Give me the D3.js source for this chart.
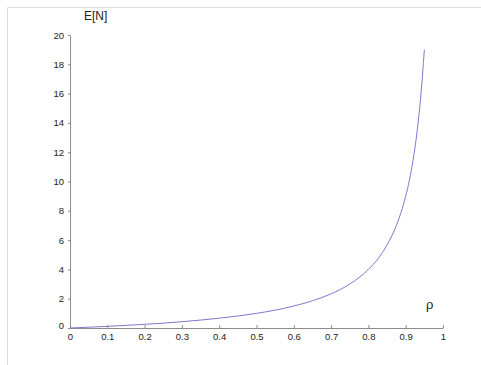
<!DOCTYPE html>
<html>
<head>
<meta charset="utf-8">
<script src="https://cdn.jsdelivr.net/npm/d3@7"></script>
<style>
  body { margin: 0; background: #fff; }
  svg { display: block; font-family: "Liberation Sans", Arial, sans-serif; }
  .axis path, .axis line { stroke: #8c8c8c; }
  .axis text { fill: #222; font-size: 9.5px; font-family: "Liberation Sans", Arial, sans-serif; }
</style>
</head>
<body>
<div id="chart"></div>
<script>
// E[N] against rho
var rho = [0, 0.05, 0.1, 0.15, 0.2, 0.25, 0.3, 0.35, 0.4, 0.45, 0.5, 0.55, 0.6, 0.65, 0.7, 0.75, 0.8, 0.825, 0.85, 0.875, 0.9, 0.91, 0.92, 0.93, 0.94, 0.95];
var en  = [0, 0.053, 0.11, 0.18, 0.25, 0.33, 0.43, 0.54, 0.67, 0.82, 1.0, 1.22, 1.5, 1.86, 2.33, 3.0, 4.0, 4.7, 5.67, 7.0, 9.0, 10.1, 11.5, 13.3, 15.7, 19.0];
var xTicks = [0, 0.1, 0.2, 0.3, 0.4, 0.5, 0.6, 0.7, 0.8, 0.9, 1];
var yTicks = [0, 2, 4, 6, 8, 10, 12, 14, 16, 18, 20];

var width = 481, height = 365;
var plotL = 70, plotR = 443, plotT = 35, plotB = 328;

var svg = d3.select("#chart").append("svg")
  .attr("width", width)
  .attr("height", height);

// light frame
svg.append("path")
  .attr("d", "M7.5," + height + "V7.5H" + width)
  .attr("fill", "none")
  .attr("stroke", "#dcdcdc");

var x = d3.scaleLinear().domain([0, 1]).range([plotL, plotR]);
var y = d3.scaleLinear().domain([0, 20]).range([plotB, plotT]);

svg.append("g")
  .attr("class", "axis")
  .attr("transform", "translate(0," + plotB + ")")
  .call(d3.axisBottom(x).tickValues(xTicks).tickSize(-3).tickSizeOuter(0).tickPadding(5)
    .tickFormat(function(d) { return d === 0 ? "0" : d3.format("~g")(d); }));

svg.append("g")
  .attr("class", "axis")
  .attr("transform", "translate(" + plotL + ",0)")
  .call(d3.axisLeft(y).tickValues(yTicks).tickSize(2).tickSizeOuter(0).tickPadding(4))
  .selectAll(".tick text")
  .attr("dy", function(d) { return d === 0 ? "0.1em" : "0.32em"; });

var line = d3.line()
  .x(function(d, i) { return x(rho[i]); })
  .y(function(d) { return y(d); })
  .curve(d3.curveMonotoneX);

svg.append("path")
  .datum(en)
  .attr("d", line)
  .attr("fill", "none")
  .attr("stroke", "#7b7bd0")
  .attr("stroke-width", 1);

svg.append("text")
  .attr("x", 84).attr("y", 20)
  .attr("font-size", 12).attr("fill", "#222")
  .text("E[N]");

svg.append("text")
  .attr("x", 426).attr("y", 309)
  .attr("font-size", 13).attr("fill", "#222")
  .text("ρ");
</script>
</body>
</html>
